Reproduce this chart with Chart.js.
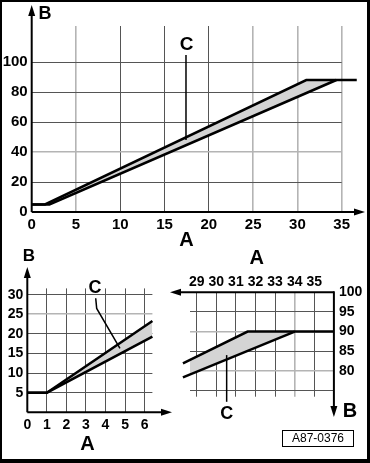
<!DOCTYPE html>
<html>
<head>
<meta charset="utf-8">
<script src="https://cdn.jsdelivr.net/npm/chart.js@4"></script>
<style>
  body { margin: 0; background: #fff; }
  #page { position: relative; width: 370px; height: 463px; overflow: hidden; }
  #page canvas { position: absolute; left: 0; top: 0; }
  #frame { position: absolute; left: 0; top: 0; width: 370px; height: 463px; box-sizing: border-box;
           border: 2px solid #000; border-right-width: 3px; border-bottom-width: 4px; }
  #code { position: absolute; left: 282px; top: 430px; width: 72px; height: 17px; box-sizing: border-box;
          border: 1px solid #000; font: 12px "Liberation Sans", Arial, sans-serif; text-align: center; line-height: 15px; }
</style>
</head>
<body>
<div id="page">
  <canvas id="topChart" width="370" height="463"></canvas>
  <canvas id="leftChart" width="370" height="463"></canvas>
  <canvas id="rightChart" width="370" height="463"></canvas>
  <div id="frame"></div>
  <div id="code">A87-0376</div>
</div>
<script>
// Данни: голямата графика (A от 0 до 35)
const topATicks = [0, 5, 10, 15, 20, 25, 30, 35];
const topBTicks = [0, 20, 40, 60, 80, 100];
const topUpperA = [0, 1.5, 31, 36.7];
const topUpperB = [5, 5, 88, 88];
const topLowerA = [0, 2, 34.4];
const topLowerB = [5, 5, 88];

// Данни: увеличението долу вляво (A от 0 до 6)
const leftATicks = [0, 1, 2, 3, 4, 5, 6];
const leftBTicks = [5, 10, 15, 20, 25, 30];
const leftUpperA = [0, 1, 6.4];
const leftUpperB = [5, 5, 23.3];
const leftLowerA = [0, 1, 6.4];
const leftLowerB = [5, 5, 19.3];

// Данни: увеличението долу вдясно (A от 29 до 35)
const rightATicks = [29, 30, 31, 32, 33, 34, 35];
const rightBTicks = [75, 80, 85, 90, 95, 100];
const rightUpperA = [28.3, 31.6, 36];
const rightUpperB = [81.9, 90, 90];
const rightLowerA = [28.3, 34];
const rightLowerB = [78.3, 90];

const FONT = '"Liberation Sans", Arial, sans-serif';
const DARK = '#555';
const LIGHT = '#b4b4b4';
const BAND = '#d4d4d4';

const pts = (xs, ys) => xs.map((x, i) => ({ x: x, y: ys[i] }));

// Линия със стрелка в края
function arrow(ctx, x1, y1, x2, y2) {
    const ang = Math.atan2(y2 - y1, x2 - x1);
    const len = 11, half = 3.5;
    ctx.save();
    ctx.strokeStyle = '#000';
    ctx.fillStyle = '#000';
    ctx.lineWidth = 2;
    ctx.beginPath();
    ctx.moveTo(x1, y1);
    ctx.lineTo(x2 - Math.cos(ang) * (len - 2), y2 - Math.sin(ang) * (len - 2));
    ctx.stroke();
    ctx.beginPath();
    ctx.moveTo(x2, y2);
    ctx.lineTo(x2 - Math.cos(ang) * len - Math.sin(ang) * half, y2 - Math.sin(ang) * len + Math.cos(ang) * half);
    ctx.lineTo(x2 - Math.cos(ang) * len + Math.sin(ang) * half, y2 - Math.sin(ang) * len - Math.cos(ang) * half);
    ctx.closePath();
    ctx.fill();
    ctx.restore();
}

function label(ctx, text, x, y, size) {
    ctx.save();
    ctx.fillStyle = '#000';
    ctx.font = 'bold ' + size + 'px ' + FONT;
    ctx.textAlign = 'center';
    ctx.textBaseline = 'middle';
    ctx.fillText(text, x, y);
    ctx.restore();
}

// Водеща линия към надписа C, в координатите на данните
function leader(chart, points) {
    const ctx = chart.ctx, xs = chart.scales.x, ys = chart.scales.y;
    ctx.save();
    ctx.strokeStyle = '#000';
    ctx.lineWidth = 1.5;
    ctx.beginPath();
    points.forEach((p, i) => {
        const px = xs.getPixelForValue(p[0]), py = ys.getPixelForValue(p[1]);
        if (i === 0) ctx.moveTo(px, py); else ctx.lineTo(px, py);
    });
    ctx.stroke();
    ctx.restore();
}

function band(upper, lower) {
    return [
        { data: upper, borderColor: '#000', borderWidth: 2.5, pointRadius: 0, tension: 0,
          fill: '+1', backgroundColor: BAND, clip: false },
        { data: lower, borderColor: '#000', borderWidth: 2.5, pointRadius: 0, tension: 0,
          fill: false, clip: false }
    ];
}

function gridOf(lightVals) {
    return {
        drawTicks: false,
        color: c => (c.tick && lightVals.includes(c.tick.value)) ? LIGHT : DARK,
        lineWidth: c => (c.tick && lightVals.includes(c.tick.value)) ? 1.6 : 1
    };
}

function tickFont(size) {
    return { family: FONT, size: size, weight: 'bold' };
}

function baseOptions(padding) {
    return {
        responsive: false,
        animation: false,
        layout: { padding: padding },
        plugins: {
            legend: { display: false },
            tooltip: { enabled: false },
            // Сивата ивица се рисува преди всички линии, за да не ги покрива
            filler: { drawTime: 'beforeDatasetsDraw' }
        }
    };
}

// Голямата графика
const topOpts = baseOptions({ left: 0, top: 26, right: 28.3, bottom: 221 });
topOpts.scales = {
    x: {
        type: 'linear', position: 'bottom', min: 0, max: 35,
        afterBuildTicks: s => { s.ticks = topATicks.map(v => ({ value: v })); },
        afterFit: s => { s.height = 30; },
        grid: gridOf([5, 25, 30, 35]),
        border: { display: false },
        ticks: { font: tickFont(15), color: '#000', padding: 4, autoSkip: false, maxRotation: 0 }
    },
    y: {
        type: 'linear', min: 0, max: 124,
        afterBuildTicks: s => { s.ticks = topBTicks.map(v => ({ value: v })); },
        afterFit: s => { s.width = 31.7; },
        grid: gridOf([40]),
        border: { display: false },
        ticks: { font: tickFont(15), color: '#000', padding: 4 }
    }
};
new Chart(document.getElementById('topChart'), {
    type: 'line',
    data: { datasets: band(pts(topUpperA, topUpperB), pts(topLowerA, topLowerB)) },
    options: topOpts,
    plugins: [{
        id: 'topDeco',
        afterDraw(chart) {
            const ctx = chart.ctx, xs = chart.scales.x, ys = chart.scales.y;
            const ox = xs.getPixelForValue(0), oy = ys.getPixelForValue(0);
            arrow(ctx, ox, oy, ox, 5);
            arrow(ctx, ox, oy, 365, oy);
            label(ctx, 'B', 45, 14, 18);
            label(ctx, 'A', 186.5, 240, 20);
            leader(chart, [[17.42, 104.7], [17.42, 48]]);
            label(ctx, 'C', xs.getPixelForValue(17.5), ys.getPixelForValue(111.3), 19);
        }
    }]
});

// Увеличение долу вляво
const leftOpts = baseOptions({ left: 0, top: 288.4, right: 217.6, bottom: 25.7 });
leftOpts.scales = {
    x: {
        type: 'linear', position: 'bottom', min: 0, max: 6.4,
        afterBuildTicks: s => { s.ticks = leftATicks.map(v => ({ value: v })); },
        afterFit: s => { s.height = 25; },
        grid: gridOf([]),
        border: { display: false },
        ticks: { font: tickFont(14), color: '#000', padding: 4, autoSkip: false, maxRotation: 0 }
    },
    y: {
        type: 'linear', min: 0, max: 31.6,
        afterBuildTicks: s => { s.ticks = leftBTicks.map(v => ({ value: v })); },
        afterFit: s => { s.width = 27.3; },
        grid: gridOf([25]),
        border: { display: false },
        ticks: { font: tickFont(14), color: '#000', padding: 4 }
    }
};
new Chart(document.getElementById('leftChart'), {
    type: 'line',
    data: { datasets: band(pts(leftUpperA, leftUpperB), pts(leftLowerA, leftLowerB)) },
    options: leftOpts,
    plugins: [{
        id: 'leftDeco',
        afterDraw(chart) {
            const ctx = chart.ctx, xs = chart.scales.x, ys = chart.scales.y;
            const ox = xs.getPixelForValue(0), oy = ys.getPixelForValue(0);
            arrow(ctx, ox, oy, ox, 267);
            arrow(ctx, ox, oy, 172, oy);
            label(ctx, 'B', 29, 256, 17);
            label(ctx, 'A', 87.5, 444, 20);
            leader(chart, [[3.5, 29.1], [3.55, 26.5], [4.74, 16.3]]);
            label(ctx, 'C', xs.getPixelForValue(3.46), ys.getPixelForValue(31.7), 18);
        }
    }]
});

// Увеличение долу вдясно (осите са отгоре и отдясно)
const rightOpts = baseOptions({ left: 190, top: 272.3, right: 6.1, bottom: 66.3 });
rightOpts.scales = {
    x: {
        type: 'linear', position: 'top', min: 28.66, max: 36,
        afterBuildTicks: s => { s.ticks = rightATicks.map(v => ({ value: v })); },
        afterFit: s => { s.height = 20; },
        grid: gridOf([34]),
        border: { display: false },
        ticks: { font: tickFont(14), color: '#000', padding: 2, autoSkip: false, maxRotation: 0 }
    },
    y: {
        type: 'linear', position: 'right', min: 73.4, max: 100,
        afterBuildTicks: s => { s.ticks = rightBTicks.map(v => ({ value: v })); },
        afterFit: s => { s.width = 30; },
        grid: gridOf([80, 90]),
        border: { display: false },
        ticks: { font: tickFont(14), color: '#000', padding: 5, callback: v => (v === 75 ? '' : v) }
    }
};
new Chart(document.getElementById('rightChart'), {
    type: 'line',
    data: { datasets: band(pts(rightUpperA, rightUpperB), pts(rightLowerA, rightLowerB)) },
    options: rightOpts,
    plugins: [{
        id: 'rightDeco',
        afterDraw(chart) {
            const ctx = chart.ctx, xs = chart.scales.x, ys = chart.scales.y;
            const ax = xs.getPixelForValue(36), ay = ys.getPixelForValue(100);
            arrow(ctx, ax, ay, 170, ay);
            arrow(ctx, ax, ay - 1, ax, 417);
            label(ctx, 'A', 256.7, 258, 20);
            label(ctx, 'B', 350, 411, 20);
            leader(chart, [[30.53, 84], [30.53, 72.1]]);
            label(ctx, 'C', xs.getPixelForValue(30.53), ys.getPixelForValue(69.1), 18);
        }
    }]
});
</script>
</body>
</html>
